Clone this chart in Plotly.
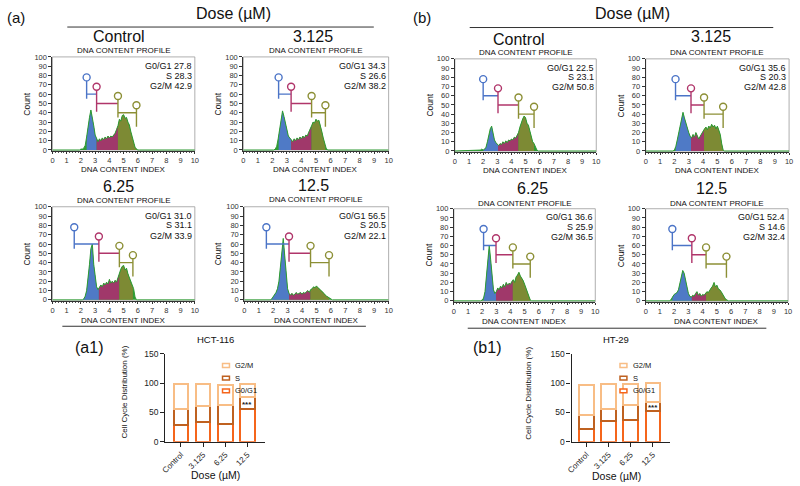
import numpy as np
import plotly.graph_objects as go

# ---------------- DATA ----------------
dna_index = [1.7, 1.8, 1.9, 2.0, 2.1, 2.2, 2.3, 2.4, 2.5, 2.6, 2.7, 2.8, 2.9, 3.0, 3.1,
             3.2, 3.3, 3.4, 3.5, 3.6, 3.7, 3.8, 3.9, 4.0, 4.1, 4.2, 4.3, 4.4, 4.5, 4.6,
             4.7, 4.8, 4.9, 5.0, 5.1, 5.2, 5.3, 5.4, 5.5, 5.6, 5.7, 5.8, 5.9, 6.0, 6.1]

hist_a_control = [0, 0, 0, 1, 1, 2, 5, 14, 26, 35, 43, 36, 26, 16, 12, 9, 12, 10, 13, 11, 14, 12, 15,
                  13, 15, 14, 16, 18, 22, 26, 33, 31, 37, 38, 34, 35, 30, 27, 20, 14, 8, 3, 1, 0, 0]
hist_a_3125 = [0, 0, 0, 0, 0, 1, 4, 12, 22, 33, 42, 36, 28, 20, 15, 13, 11, 9, 12, 10, 13, 11, 14,
               12, 15, 13, 16, 15, 19, 22, 26, 30, 29, 33, 31, 32, 27, 20, 13, 6, 2, 0, 0, 0, 0]
hist_a_625 = [0, 0, 0, 0, 0, 1, 4, 10, 22, 38, 55, 60, 38, 22, 14, 11, 13, 16, 14, 18, 16, 19, 17,
              22, 18, 20, 18, 21, 19, 24, 28, 33, 36, 37, 32, 34, 28, 24, 18, 15, 12, 3, 0, 0, 0]
hist_a_125 = [0, 0, 1, 3, 5, 8, 12, 20, 35, 55, 66, 48, 25, 12, 7, 5, 7, 5, 6, 8, 6, 7, 8,
              6, 8, 7, 9, 10, 8, 11, 12, 14, 13, 15, 13, 12, 10, 9, 7, 5, 4, 3, 2, 1, 0]
hist_b_control = [1, 1, 2, 1, 2, 4, 10, 17, 24, 27, 19, 12, 9, 7, 6, 8, 7, 10, 8, 11, 9, 12, 11,
                  13, 12, 15, 14, 17, 20, 26, 31, 35, 38, 36, 30, 28, 22, 16, 10, 8, 4, 1, 0, 0, 0]
hist_b_3125 = [0, 0, 0, 1, 5, 12, 20, 28, 36, 42, 36, 30, 24, 20, 16, 14, 18, 15, 20, 17, 13, 16, 19,
               22, 24, 26, 23, 27, 25, 29, 26, 28, 24, 27, 23, 18, 8, 1, 0, 0, 0, 0, 0, 0, 0]
hist_b_625 = [0, 0, 0, 1, 3, 10, 28, 48, 60, 45, 25, 12, 8, 10, 14, 12, 16, 14, 18, 15, 20, 17, 19,
              18, 21, 23, 20, 26, 28, 31, 27, 25, 22, 18, 14, 10, 5, 1, 0, 0, 0, 0, 0, 0, 0]
hist_b_125 = [0, 2, 5, 7, 8, 9, 12, 18, 26, 33, 30, 22, 12, 8, 5, 4, 6, 5, 8, 10, 6, 8, 5,
              7, 6, 8, 10, 9, 12, 14, 16, 20, 15, 17, 13, 12, 10, 7, 4, 2, 1, 0, 0, 0, 0]

# gate boundaries (DNA content index): G0/G1 start, S start, G2/M start, G2/M end
gate_a_control = [2.4, 3.1, 4.6, 5.9]
gate_a_3125 = [2.43, 3.29, 4.7, 5.65]
gate_a_625 = [1.53, 3.26, 4.7, 5.65]
gate_a_125 = [1.53, 3.1, 4.59, 5.87]
gate_b_control = [2.0, 3.05, 4.5, 5.6]
gate_b_3125 = [2.08, 3.16, 4.07, 5.4]
gate_b_625 = [2.1, 2.98, 4.17, 5.4]
gate_b_125 = [1.87, 3.24, 4.24, 5.67]
gate_levels = [60, 50, 40]

doses = ["Control", "3.125", "6.25", "12.5"]
phase_names = ["G0/G1", "S", "G2/M"]
hct_g0g1 = [27.8, 34.3, 31.0, 56.5]
hct_s = [28.3, 26.6, 31.1, 20.5]
hct_g2m = [42.9, 38.2, 33.9, 22.1]
ht_g0g1 = [22.5, 35.6, 36.6, 52.4]
ht_s = [23.1, 20.3, 25.9, 14.6]
ht_g2m = [50.8, 42.8, 36.5, 32.4]

# ---------------- STYLE ----------------
FONT = "Liberation Sans, Arial, sans-serif"
W, H = 800, 486
GREEN = "#2f9b33"
REGION_FILL = ["#4f7ac6", "#a0386a", "#7d8a34"]
GATE_COL = ["#4b74c7", "#b0356a", "#8c8f35"]
BAR_COL = {"G0/G1": "#f5651b", "S": "#bf6120", "G2/M": "#f8bd85"}


def px(x):
    return x / W


def py(y):
    return 1 - y / H


fig = go.Figure()
annotations = []
shapes = []
layout = dict(width=W, height=H, margin=dict(l=0, r=0, t=0, b=0),
              paper_bgcolor="white", plot_bgcolor="white", showlegend=False,
              barmode="stack", font=dict(family=FONT, color="#222"))


def ann(text, x, y, size, **kw):
    d = dict(text=text, x=px(x), y=py(y), xref="paper", yref="paper", showarrow=False,
             xanchor="center", yanchor="middle",
             font=dict(size=size, family=FONT, color=kw.pop("color", "#111")))
    d.update(kw)
    return d


def hline(x0, x1, y, w=1.0, color="#333"):
    shapes.append(dict(type="line", xref="paper", yref="paper", x0=px(x0), x1=px(x1),
                       y0=py(y), y1=py(y), line=dict(color=color, width=w)))


panels = [
    (hist_a_control, gate_a_control, 0, "Control", (48, 192, 53, 149), (115, 32), 46, 168, 22),
    (hist_a_3125, gate_a_3125, 1, "3.125", (241, 388, 53, 149), (311, 32), 46, 168, 215),
    (hist_a_625, gate_a_625, 2, "6.25", (48, 192, 206, 302), (115, 185), 200, 322, 22),
    (hist_a_125, gate_a_125, 3, "12.5", (242, 388, 206, 302), (312, 184), 199, 322, 215),
    (hist_b_control, gate_b_control, 0, "Control", (455, 598, 55, 150), (520, 35), 49, 169, 430),
    (hist_b_3125, gate_b_3125, 1, "3.125", (648, 793, 55, 150), (714, 32), 48, 169, 623),
    (hist_b_625, gate_b_625, 2, "6.25", (454, 597, 208, 303), (533, 187), 203, 323, 429),
    (hist_b_125, gate_b_125, 3, "12.5", (648, 792, 208, 303), (715, 187), 203, 323, 623),
]
pct_sets = [(hct_g0g1, hct_s, hct_g2m)] * 4 + [(ht_g0g1, ht_s, ht_g2m)] * 4

dna = np.array(dna_index)
for i, (vals, gates, di, title, box, tpos, prof_y, idx_y, count_x) in enumerate(panels, start=1):
    sfx = "" if i == 1 else str(i)
    xa, ya = "x" + sfx, "y" + sfx
    x0, x1, yt, yb = box
    layout["xaxis" + sfx] = dict(domain=[px(x0), px(x1)], range=[0, 10], anchor=ya,
                                 tickvals=list(range(11)), ticks="outside", ticklen=2.5, tickwidth=0.8,
                                 tickcolor="#333", minor=dict(dtick=0.2, ticks="outside", ticklen=1.5,
                                                              tickcolor="#555", tickwidth=0.6),
                                 showline=True, linecolor="#333", linewidth=1, showgrid=False,
                                 zeroline=False, tickfont=dict(size=7.5, family=FONT, color="#333"))
    layout["yaxis" + sfx] = dict(domain=[py(yb), py(yt)], range=[-1, 100], anchor=xa,
                                 tickvals=list(range(0, 101, 10)), ticks="outside", ticklen=3,
                                 tickwidth=0.8, tickcolor="#333", showline=True, linecolor="#333",
                                 linewidth=1, showgrid=False, zeroline=False,
                                 tickfont=dict(size=7.5, family=FONT, color="#333"))
    # box
    shapes.append(dict(type="rect", xref=xa + " domain", yref=ya + " domain", x0=0, x1=1, y0=0, y1=1,
                       line=dict(color="#9a9a9a", width=0.8), layer="below"))
    # full histogram (green base)
    fx = [0.0] + dna_index + [10.0]
    fy = [0] + vals + [0]
    fig.add_trace(go.Scatter(x=fx, y=fy, mode="lines", fill="tozeroy", fillcolor=GREEN,
                             line=dict(width=0, color=GREEN), xaxis=xa, yaxis=ya, hoverinfo="skip"))
    # gated regions
    for j in range(3):
        a, b = gates[j], gates[j + 1]
        xs = [a] + [x for x in dna_index if a < x < b] + [b]
        ys = np.interp(xs, dna, vals).tolist()
        fig.add_trace(go.Scatter(x=xs, y=ys, mode="lines", fill="tozeroy", fillcolor=REGION_FILL[j],
                                 line=dict(width=0, color=REGION_FILL[j]), xaxis=xa, yaxis=ya,
                                 hoverinfo="skip"))
    # outline
    fig.add_trace(go.Scatter(x=fx, y=fy, mode="lines", line=dict(width=1, color=GREEN),
                             xaxis=xa, yaxis=ya, hoverinfo="skip"))
    # gate markers
    bottoms = [-5, -9, -5]
    for j in range(3):
        h = gate_levels[j]
        L, R = gates[j], gates[j + 1]
        lx = [L, R, None, L, L]
        ly = [h, h, None, h + bottoms[j], h + 18]
        mx, my = [L], [h + 18]
        if j == 2:
            lx += [None, R, R]
            ly += [None, h - 15, h + 8]
            mx.append(R)
            my.append(h + 8)
        fig.add_trace(go.Scatter(x=lx, y=ly, mode="lines", line=dict(width=1.4, color=GATE_COL[j]),
                                 xaxis=xa, yaxis=ya, hoverinfo="skip", connectgaps=False))
        fig.add_trace(go.Scatter(x=mx, y=my, mode="markers",
                                 marker=dict(symbol="circle", size=7, color="white",
                                             line=dict(color=GATE_COL[j], width=1.4)),
                                 xaxis=xa, yaxis=ya, hoverinfo="skip"))
    # stats text
    g, s, m = pct_sets[i - 1]
    stats = [f"G0/G1 {g[di]:.1f}", f"S {s[di]:.1f}", f"G2/M {m[di]:.1f}"]
    for k, (txt, yy) in enumerate(zip(stats, [90.5, 80, 69])):
        annotations.append(dict(text=txt, x=9.95, y=yy, xref=xa, yref=ya, xanchor="right",
                                yanchor="middle", showarrow=False,
                                font=dict(size=9, family=FONT, color="#111")))
    cx = (x0 + x1) / 2
    annotations.append(ann(title, tpos[0], tpos[1], 16))
    annotations.append(ann("DNA CONTENT PROFILE", cx, prof_y, 8))
    annotations.append(ann("DNA CONTENT INDEX", cx, idx_y, 8))
    annotations.append(ann("Count", count_x, (yt + yb) / 2, 8.5, textangle=-90))

# header texts / rule lines
annotations.append(ann("(a)", 11, 13, 15))
annotations.append(ann("(b)", 422, 13, 15))
annotations.append(ann("Dose (µM)", 231, 9, 16))
annotations.append(ann("Dose (µM)", 635, 9, 16))
hline(63, 373, 22.5)
hline(470, 777, 23)
hline(58, 365, 328)
hline(468, 770, 330)

# ---------------- BAR CHARTS ----------------
bar_sets = [
    (9, (hct_g0g1, hct_s, hct_g2m), (162, 263, 356, 446), 178, "HCT-116", (213, 342), "(a1)", (85, 350),
     (121, 395), (213, 480), 63, (220, 231)),
    (10, (ht_g0g1, ht_s, ht_g2m), (573, 673, 356, 446), 588, "HT-29", (618, 342), "(b1)", (487, 350),
     (530, 397), (618, 481), 59, (622, 633)),
]
for idx, series, box, first_c, title, tpos, lab, lpos, ypos, xpos, star_y, legx in bar_sets:
    sfx = str(idx)
    xa, ya = "x" + sfx, "y" + sfx
    x0, x1, yt, yb = box
    left = (x0 - first_c) / 22.4
    right = left + (x1 - x0) / 22.4
    layout["xaxis" + sfx] = dict(domain=[px(x0), px(x1)], type="category", range=[left, right],
                                 anchor=ya, ticks="outside", ticklen=4, tickwidth=1, tickcolor="#222",
                                 tickangle=-45, showline=True, linecolor="#222", linewidth=1.2,
                                 showgrid=False, zeroline=False,
                                 tickfont=dict(size=8, family=FONT, color="#222"))
    layout["yaxis" + sfx] = dict(domain=[py(yb), py(yt)], range=[0, 150], anchor=xa,
                                 tickvals=[0, 50, 100, 150], ticks="outside", ticklen=4, tickwidth=1,
                                 tickcolor="#222", showline=True, linecolor="#222", linewidth=1.2,
                                 showgrid=False, zeroline=False,
                                 tickfont=dict(size=8.5, family=FONT, color="#222"))
    for name, vals in zip(phase_names, series):
        fig.add_trace(go.Bar(x=doses, y=vals, width=0.66, xaxis=xa, yaxis=ya,
                             marker=dict(color="rgba(255,255,255,0)",
                                         line=dict(color=BAR_COL[name], width=2)),
                             hoverinfo="skip"))
    annotations.append(dict(text="<b>***</b>", x=3, y=star_y, xref=xa, yref=ya, showarrow=False,
                            xanchor="center", yanchor="middle",
                            font=dict(size=8, family=FONT, color="#222")))
    annotations.append(ann(title, tpos[0], tpos[1], 9.5))
    annotations.append(ann(lab, lpos[0], lpos[1], 16))
    annotations.append(ann("Cell Cycle Distribution (%)", ypos[0], ypos[1], 8, textangle=-90))
    annotations.append(ann("Dose (µM)", xpos[0], xpos[1], 10.5))
    # legend
    for k, name in enumerate(["G2/M", "S", "G0/G1"]):
        yy = 368 + 13 * k
        shapes.append(dict(type="rect", xref="paper", yref="paper", x0=px(legx[0]), x1=px(legx[0] + 7),
                           y0=py(yy + 2), y1=py(yy - 2), line=dict(color=BAR_COL[name], width=1.5),
                           fillcolor="white"))
        annotations.append(ann(name, legx[1], yy, 7.5, xanchor="left"))

layout["annotations"] = annotations
layout["shapes"] = shapes
fig.update_layout(**layout)
fig.write_html("out.html")
